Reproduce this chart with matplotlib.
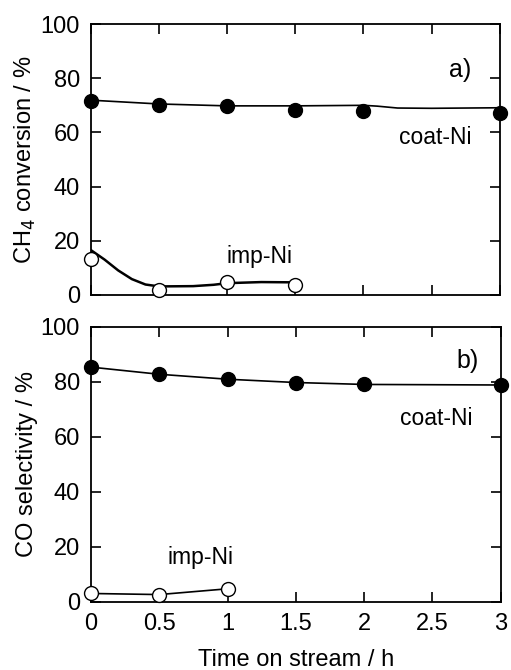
import numpy as np
import matplotlib.pyplot as plt

plt.rcParams['font.family'] = ['Liberation Sans', 'DejaVu Sans']

# 数据 (a) CH4 conversion
t_coat = [0, 0.5, 1, 1.5, 2, 3]
conv_coat = [71.6, 70.0, 69.7, 68.4, 67.9, 67.1]
t_imp = [0, 0.5, 1, 1.5]
conv_imp = [13.3, 1.6, 4.8, 3.6]
# 拟合曲线
t_conv_coat_fit = [0, 0.5, 1, 1.5, 2, 2.1, 2.25, 2.5, 3]
conv_coat_fit = [71.9, 70.5, 69.8, 69.8, 70.0, 69.7, 69.0, 68.9, 69.1]
t_conv_imp_fit = [0, 0.1, 0.2, 0.3, 0.4, 0.5, 0.75, 0.9, 1.0, 1.25, 1.5]
conv_imp_fit = [16.5, 13.0, 9.0, 5.8, 3.8, 3.1, 3.2, 3.7, 4.3, 4.7, 4.6]

# 数据 (b) CO selectivity
sel_coat = [85.4, 82.8, 81.0, 79.8, 79.1, 78.9]
t_sel_imp = [0, 0.5, 1]
sel_imp = [3.1, 2.7, 4.8]

fig = plt.figure(figsize=(5.11, 6.70), dpi=100)
ax1 = fig.add_axes([0.178, 0.560, 0.800, 0.404])
ax2 = fig.add_axes([0.178, 0.1015, 0.802, 0.4105])

fs_tick = 17
fs_text = 16.5

# a)
ax1.plot(t_conv_coat_fit, conv_coat_fit, color='k', lw=1.2)
ax1.plot(t_conv_imp_fit, conv_imp_fit, color='k', lw=1.8)
ax1.plot(t_coat, conv_coat, 'o', color='k', ms=10, zorder=5, clip_on=False)
ax1.plot(t_imp, conv_imp, 'o', mfc='white', mec='k', mew=1, ms=10, zorder=5, clip_on=False)
ax1.text(2.71, 83, 'a)', fontsize=18, ha='center', va='center')
ax1.text(2.53, 58, 'coat-Ni', fontsize=fs_text, ha='center', va='center')
ax1.text(1.24, 14.3, 'imp-Ni', fontsize=fs_text, ha='center', va='center')
ax1.set_ylabel('CH$_4$ conversion / %', fontsize=fs_tick, labelpad=2)
ax1.tick_params(labelbottom=False)

# b)
ax2.plot(t_coat, sel_coat, color='k', lw=1.2)
ax2.plot(t_sel_imp, sel_imp, color='k', lw=1.2)
ax2.plot(t_coat, sel_coat, 'o', color='k', ms=10, zorder=5, clip_on=False)
ax2.plot(t_sel_imp, sel_imp, 'o', mfc='white', mec='k', mew=1, ms=10, zorder=5, clip_on=False)
ax2.text(2.76, 87.7, 'b)', fontsize=18, ha='center', va='center')
ax2.text(2.53, 66.8, 'coat-Ni', fontsize=fs_text, ha='center', va='center')
ax2.text(0.80, 16, 'imp-Ni', fontsize=fs_text, ha='center', va='center')
ax2.set_ylabel('CO selectivity / %', fontsize=fs_tick, labelpad=2)
ax2.set_xlabel('Time on stream / h', fontsize=fs_tick, labelpad=10)
ax2.set_xticks([0, 0.5, 1, 1.5, 2, 2.5, 3])
ax2.set_xticklabels(['0', '0.5', '1', '1.5', '2', '2.5', '3'])

for ax in (ax1, ax2):
    ax.set_xlim(0, 3)
    ax.set_ylim(0, 100)
    ax.set_xticks([0, 0.5, 1, 1.5, 2, 2.5, 3])
    ax.set_yticks([0, 20, 40, 60, 80, 100])
    ax.tick_params(direction='in', top=True, right=True, length=7, width=1.2,
                   labelsize=fs_tick, pad=8)
    for s in ax.spines.values():
        s.set_linewidth(1.3)

plt.savefig('out.png', dpi=100)
